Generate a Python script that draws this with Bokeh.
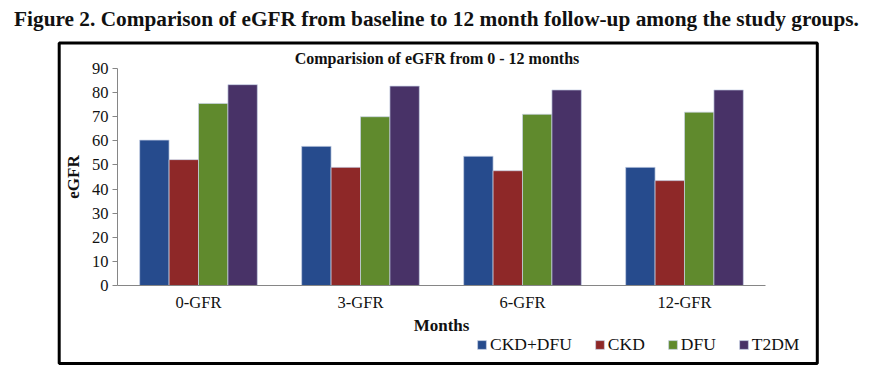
from bokeh.plotting import figure
from bokeh.models import (FactorRange, Range1d, Legend, LegendItem, Label, BoxAnnotation,
                          ColumnDataSource, FixedTicker)
from bokeh.transform import dodge
from bokeh.embed import file_html
from bokeh.resources import INLINE

# ---- data ----
months = ["0-GFR", "3-GFR", "6-GFR", "12-GFR"]
ckd_dfu = [60.3, 57.7, 53.6, 49.0]
ckd = [52.2, 49.0, 47.6, 43.5]
dfu = [75.5, 70.0, 71.0, 71.9]
t2dm = [83.3, 82.7, 81.1, 81.1]
series_names = ["CKD+DFU", "CKD", "DFU", "T2DM"]
y_ticks = [0, 10, 20, 30, 40, 50, 60, 70, 80, 90]

colors = ["#264B8D", "#8E2828", "#608A2D", "#483267"]
SERIF = "Liberation Serif"
TXT = "#111111"

src = ColumnDataSource(dict(month=months, s0=ckd_dfu, s1=ckd, s2=dfu, s3=t2dm))

# the frame covers the whole canvas; axes are fixed inside it
p = figure(title=None,
           x_range=FactorRange(*months, range_padding=0.64815, range_padding_units="absolute"),
           y_range=Range1d(-35.67, 118.2),
           width=870, height=371,
           output_backend="svg", toolbar_location=None,
           min_border_left=12, min_border_right=0,
           min_border_top=0, min_border_bottom=0)
p.outline_line_color = None
p.xgrid.visible = False
p.ygrid.visible = False

bw = 0.1816
offsets = [-1.5 * bw, -0.5 * bw, 0.5 * bw, 1.5 * bw]
renderers = []
for i, (off, c) in enumerate(zip(offsets, colors)):
    r = p.vbar(x=dodge("month", off, range=p.x_range), top="s%d" % i, width=bw,
               source=src, fill_color=c, line_color="#C9D3E6", line_width=0.7)
    renderers.append(r)

axis_col = "#868686"
ya = p.yaxis[0]
ya.fixed_location = 0
ya.bounds = (0, 90)
ya.ticker = FixedTicker(ticks=y_ticks)
ya.axis_line_color = axis_col
ya.major_tick_line_color = axis_col
ya.major_tick_out = 5
ya.major_tick_in = 0
ya.minor_tick_line_color = None
ya.major_label_text_font = SERIF
ya.major_label_text_font_size = "16.5px"
ya.major_label_text_color = TXT
ya.major_label_standoff = 4
ya.axis_label = "eGFR"
ya.axis_label_text_font = SERIF
ya.axis_label_text_font_style = "bold"
ya.axis_label_text_font_size = "17px"
ya.axis_label_text_color = TXT
ya.axis_label_standoff = 6

xa = p.xaxis[0]
xa.fixed_location = 0
xa.bounds = (0, 4)
xa.axis_line_color = axis_col
xa.major_tick_line_color = None
xa.major_tick_out = 0
xa.minor_tick_line_color = None
xa.major_label_text_font = SERIF
xa.major_label_text_font_size = "16.5px"
xa.major_label_text_color = TXT
xa.major_label_standoff = 8
xa.axis_label = "Months"
xa.axis_label_text_font = SERIF
xa.axis_label_text_font_style = "bold"
xa.axis_label_text_font_size = "17px"
xa.axis_label_text_color = TXT
xa.axis_label_standoff = 0

legend = Legend(items=[LegendItem(label=n, renderers=[r]) for n, r in zip(series_names, renderers)],
                orientation="horizontal", location=(464, 16),
                padding=0, margin=0, spacing=22,
                glyph_width=11, glyph_height=11, label_standoff=3, label_height=12,
                label_text_font=SERIF, label_text_font_size="17.5px",
                label_text_color=TXT,
                border_line_color=None, background_fill_alpha=0)
p.add_layout(legend)

# outer box around the chart
box = BoxAnnotation(left=58.7, right=816.8, top=42.5, bottom=363,
                    left_units="canvas", right_units="canvas",
                    top_units="canvas", bottom_units="canvas",
                    fill_alpha=0, line_color="black", line_alpha=1.0, line_width=3)
p.add_layout(box)

title = Label(x=436, y=18, x_units="canvas", y_units="canvas",
              text="Figure 2. Comparison of eGFR from baseline to 12 month follow-up among the study groups.",
              text_align="center", text_baseline="alphabetic",
              text_font=SERIF, text_font_style="bold", text_font_size="21.3px",
              text_color=TXT)
p.add_layout(title)

subtitle = Label(x=436.5, y=57.5, x_units="canvas", y_units="canvas",
                 text="Comparision of eGFR from 0 - 12 months",
                 text_align="center", text_baseline="alphabetic",
                 text_font=SERIF, text_font_style="bold", text_font_size="16px",
                 text_color=TXT)
p.add_layout(subtitle)

open("out.html", "w").write(file_html(p, INLINE))
